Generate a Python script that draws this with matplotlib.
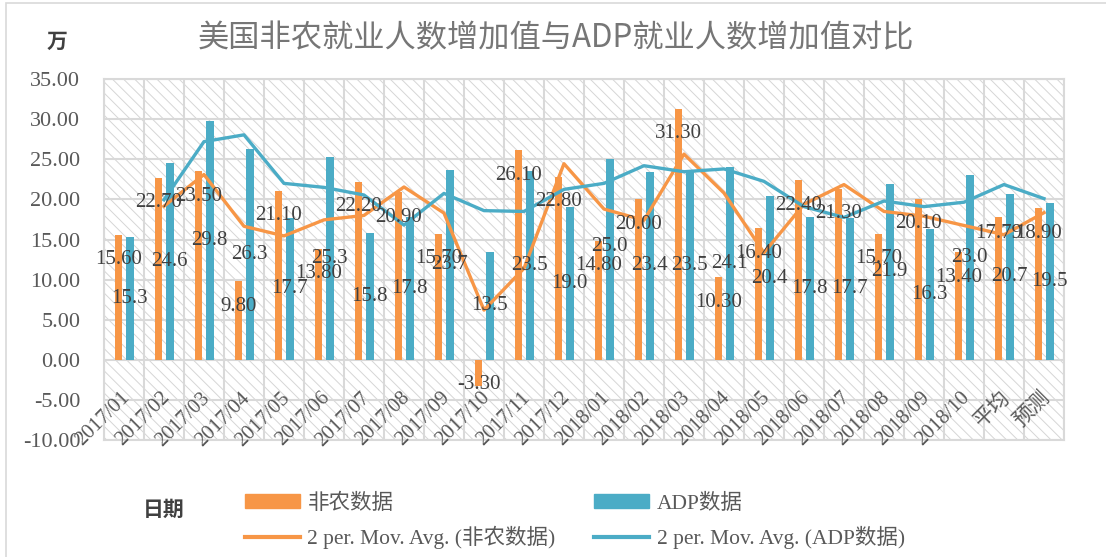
import matplotlib
matplotlib.use('Agg')
import matplotlib.pyplot as plt
import numpy as np
import pandas as pd
from matplotlib.patches import Rectangle, Patch
from matplotlib.lines import Line2D
from matplotlib.font_manager import FontProperties

# data
months = ['2017/01', '2017/02', '2017/03', '2017/04', '2017/05', '2017/06',
          '2017/07', '2017/08', '2017/09', '2017/10', '2017/11', '2017/12',
          '2018/01', '2018/02', '2018/03', '2018/04', '2018/05', '2018/06',
          '2018/07', '2018/08', '2018/09', '2018/10', '平均', '预测']
nonfarm = [15.60, 22.70, 23.50, 9.80, 21.10, 13.80, 22.20, 20.90, 15.70, -3.30,
           26.10, 22.80, 14.80, 20.00, 31.30, 10.30, 16.40, 22.40, 21.30, 15.70,
           20.10, 13.40, 17.79, 18.90]
adp = [15.3, 24.6, 29.8, 26.3, 17.7, 25.3, 15.8, 17.8, 23.7, 13.5, 23.5, 19.0,
       25.0, 23.4, 23.5, 24.1, 20.4, 17.8, 17.7, 21.9, 16.3, 23.0, 20.7, 19.5]

ORANGE = '#F79646'
BLUE = '#4BACC6'
GRID = '#d9d9d9'
TXT = '#404040'
TICK = '#595959'

SERIF = ['Liberation Serif', 'Noto Sans CJK SC']
CJK = ['Noto Sans CJK SC', 'DejaVu Sans']

# a few labels were dragged by hand in the original
nf_nudge = {'平均': 1.1}
adp_nudge = {'2018/01': 1.6, '2018/10': 1.2}

plt.rcParams['hatch.linewidth'] = 0.7
plt.rcParams['hatch.color'] = '#d6d6d6'

fig = plt.figure(figsize=(11.06, 5.57), dpi=100)
ax = fig.add_axes([0.094, 0.21, 0.868, 0.648])

# outer chart frame
fig.patches.append(Rectangle((0.005, -0.02), 1.2, 1.0 - 0.005 + 0.02,
                             transform=fig.transFigure, fill=False,
                             edgecolor=GRID, lw=1.2))

x = np.arange(len(months))
nf_ma = pd.Series(nonfarm).rolling(2).mean()
adp_ma = pd.Series(adp).rolling(2).mean()

# hatched plot area
ax.add_patch(Rectangle((0, 0), 1, 1, transform=ax.transAxes, facecolor='white',
                       edgecolor='#d6d6d6', hatch='\\\\\\', lw=0, zorder=0))
for yv in range(-10, 36, 5):
    ax.axhline(yv, color=GRID, lw=1.5, zorder=0.6)
for xv in np.arange(-0.5, len(months), 1):
    ax.axvline(xv, color=GRID, lw=1.5, zorder=0.6)

w = 0.19
ax.bar(x - 0.135, nonfarm, w, color=ORANGE, zorder=2)
ax.bar(x + 0.145, adp, w, color=BLUE, zorder=2)
ax.plot(x, nf_ma, color=ORANGE, lw=2.4, zorder=3)
ax.plot(x, adp_ma, color=BLUE, lw=2.4, zorder=3)

for i, m in enumerate(months):
    v = nonfarm[i]
    ly = v - 3.1 if v > 0 else v + 0.2
    ly += nf_nudge.get(m, 0)
    ax.text(i - 0.135, ly, '%.2f' % v, ha='center', va='center',
            fontsize=15, color=TXT, family=SERIF, zorder=4)
    a = adp[i]
    ax.text(i + 0.145, a / 2 + adp_nudge.get(m, 0), '%.1f' % a, ha='center',
            va='center', fontsize=15, color=TXT, family=SERIF, zorder=4)
    ax.text(i + 0.08, -4.4, m, rotation=45, rotation_mode='anchor', ha='right',
            va='center', fontsize=15, color=TICK, family=SERIF, zorder=4)

ax.set_xlim(-0.5, len(months) - 0.5)
ax.set_ylim(-10, 35)
ax.set_xticks([])
yt = list(range(-10, 36, 5))
ax.set_yticks(yt)
ax.set_yticklabels(['%.2f' % t for t in yt], family=SERIF, fontsize=16, color=TICK)
ax.tick_params(axis='y', length=0, pad=17)
for s in ax.spines.values():
    s.set_color(GRID)
    s.set_linewidth(1.5)

fig.text(0.503, 0.932, '美国非农就业人数增加值与ADP就业人数增加值对比', ha='center',
         va='center', fontsize=22.5, color='#767676', family=CJK)
fig.text(0.052, 0.925, '万', ha='center', va='center', fontsize=15,
         color=TXT, family=CJK, fontweight='bold')
fig.text(0.148, 0.086, '日期', ha='center', va='center', fontsize=15,
         color=TXT, family=CJK, fontweight='bold')

handles = [Patch(color=ORANGE), Line2D([], [], color=ORANGE, lw=3),
           Patch(color=BLUE), Line2D([], [], color=BLUE, lw=3)]
labels = ['非农数据', '2 per. Mov. Avg. (非农数据)',
          'ADP数据', '2 per. Mov. Avg. (ADP数据)']
fig.legend(handles, labels, loc='upper left', bbox_to_anchor=(0.2215, 0.114),
           ncol=2, frameon=False, borderpad=0, borderaxespad=0,
           prop=FontProperties(family=SERIF, size=15.5), labelcolor=TICK,
           handlelength=2.55, handleheight=0.6, handletextpad=0.35,
           columnspacing=1.8, labelspacing=0.55)

fig.savefig('out.png', dpi=100)
